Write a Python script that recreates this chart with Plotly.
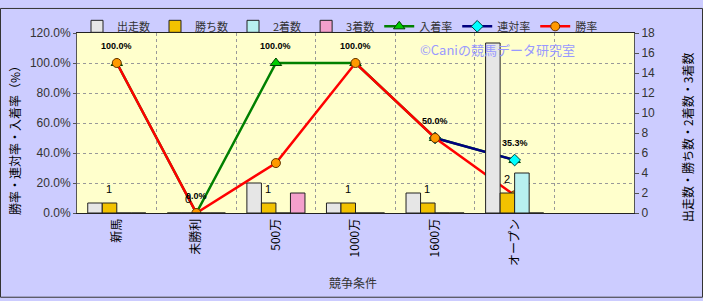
import plotly.graph_objects as go

categories = ["新馬", "未勝利", "500万", "1000万", "1600万", "オープン", " "]
starts = [1, 0, 3, 1, 2, 17, None]
wins = [1, 0, 1, 1, 1, 2, None]
seconds = [0, 0, 0, 0, 0, 4, None]
thirds = [0, 0, 2, 0, 0, 0, None]
win_rate = [100.0, 0.0, 33.3, 100.0, 50.0, 11.8, None]
quinella_rate = [None, None, None, None, 50.0, 35.3, None]
place_rate = [100.0, 0.0, 100.0, 100.0, 50.0, 35.3, None]
place_labels = ["100.0%", "0.0%", "100.0%", "100.0%", "50.0%", "35.3%", None]
win_labels = ["1", "0", "1", "1", "1", "2", None]
left_ticks = [0, 20, 40, 60, 80, 100, 120]
left_tick_text = ["0.0%", "20.0%", "40.0%", "60.0%", "80.0%", "100.0%", "120.0%"]

W, H = 703, 301
L, R, T, B = 77, 69, 26, 88
pw, ph = W - L - R, H - T - B

fig = go.Figure()
bar_line = dict(color="#222222", width=1)

fig.add_bar(x=categories, y=starts, name="出走数", yaxis="y2",
            marker=dict(color="#e6e6e6", line=bar_line))
fig.add_bar(x=categories, y=wins, name="勝ち数", yaxis="y2",
            marker=dict(color="#f2c200", line=bar_line))
fig.add_bar(x=categories, y=seconds, name="2着数", yaxis="y2",
            marker=dict(color="#b8f0f0", line=bar_line))
fig.add_bar(x=categories, y=thirds, name="3着数", yaxis="y2",
            marker=dict(color="#f4a0cc", line=bar_line))

fig.add_scatter(x=categories, y=place_rate, name="入着率", mode="lines+markers",
                line=dict(color="#008000", width=2.5),
                marker=dict(symbol="triangle-up", size=10, color="#00cc00",
                            line=dict(color="#004000", width=1)))
fig.add_scatter(x=categories, y=quinella_rate, name="連対率", mode="lines+markers",
                line=dict(color="#000080", width=2.5),
                marker=dict(symbol="diamond", size=9, color="#00ffff",
                            line=dict(color="#004040", width=1)))
fig.add_scatter(x=categories, y=win_rate, name="勝率", mode="lines+markers",
                line=dict(color="#ff0000", width=2.5),
                marker=dict(symbol="circle", size=9, color="#ff9900",
                            line=dict(color="#663300", width=1)))

annotations = []
for c, v, t in zip(categories, place_rate, place_labels):
    if t is None:
        continue
    annotations.append(dict(x=c, y=v, xref="x", yref="y", text="<b>" + t + "</b>",
                            showarrow=False, yshift=17,
                            font=dict(family="Arial", size=9, color="#000000")))
for c, v, t in zip(categories, wins, win_labels):
    if t is None:
        continue
    annotations.append(dict(x=c, y=v, xref="x", yref="y2", text=t,
                            showarrow=False, yshift=14, xshift=-8,
                            font=dict(family="Arial", size=11, color="#000000")))

annotations.append(dict(text="©Caniの競馬データ研究室", xref="paper", yref="paper",
                        x=(497 - L) / pw, y=(T + ph - 43) / ph, showarrow=False,
                        xanchor="center", yanchor="middle",
                        font=dict(family="Noto Sans CJK JP", size=13, color="#9999ff")))
annotations.append(dict(text="勝率・連対率・入着率（%）", xref="paper", yref="paper",
                        x=(15 - L) / pw, y=(T + ph - 135) / ph, showarrow=False,
                        textangle=-90, xanchor="center", yanchor="middle",
                        font=dict(family="Noto Sans CJK JP", size=12, color="#000000")))
annotations.append(dict(text="出走数・勝ち数・2着数・3着数", xref="paper", yref="paper",
                        x=(688 - L) / pw, y=(T + ph - 135) / ph, showarrow=False,
                        textangle=-90, xanchor="center", yanchor="middle",
                        font=dict(family="Noto Sans CJK JP", size=12, color="#000000")))
annotations.append(dict(text="競争条件", xref="paper", yref="paper",
                        x=(353 - L) / pw, y=(T + ph - 285) / ph, showarrow=False,
                        xanchor="center", yanchor="middle",
                        font=dict(family="Noto Sans CJK JP", size=12, color="#333333")))

shapes = [dict(type="rect", xref="paper", yref="paper",
               x0=-(L - 0.5) / pw, x1=1 + (R - 0.5) / pw,
               y0=-(B - 0.5) / ph, y1=1 + (T - 0.5) / ph,
               line=dict(color="#333333", width=1), fillcolor="rgba(0,0,0,0)")]

fig.update_layout(
    width=W, height=H,
    margin=dict(l=L, r=R, t=T, b=B),
    paper_bgcolor="#ccccff", plot_bgcolor="#ffffcc",
    barmode="group", bargap=0.27, bargroupgap=0,
    font=dict(family="Noto Sans CJK JP", size=12, color="#333333"),
    legend=dict(orientation="h", x=0.0, y=1 + (T - 4) / ph, xanchor="left", yanchor="top",
                bgcolor="rgba(0,0,0,0)", font=dict(size=11, color="#333333"),
                itemwidth=30, traceorder="normal"),
    xaxis=dict(categoryorder="array", categoryarray=categories, range=[-0.5, 6.5],
               tickson="boundaries", showgrid=True, gridcolor="#999999", griddash="dot",
               gridwidth=1, tickangle=-90, ticks="", showline=True, linecolor="#222222",
               mirror=True, tickfont=dict(family="Noto Sans CJK JP", size=12, color="#000000")),
    yaxis=dict(range=[0, 120], tickvals=left_ticks, ticktext=left_tick_text, showgrid=True,
               gridcolor="#999999", griddash="dot", showline=True, linecolor="#555555",
               ticks="outside", ticklen=3, tickcolor="#555555", zeroline=False,
               tickfont=dict(family="Arial", size=12, color="#333333")),
    yaxis2=dict(range=[0, 18], dtick=2, overlaying="y", side="right", showgrid=False,
                showline=True, linecolor="#555555", ticks="outside", ticklen=4,
                tickcolor="#555555", zeroline=False,
                tickfont=dict(family="Arial", size=12, color="#333333")),
    annotations=annotations, shapes=shapes,
    showlegend=True,
)

fig.write_html("out.html")
